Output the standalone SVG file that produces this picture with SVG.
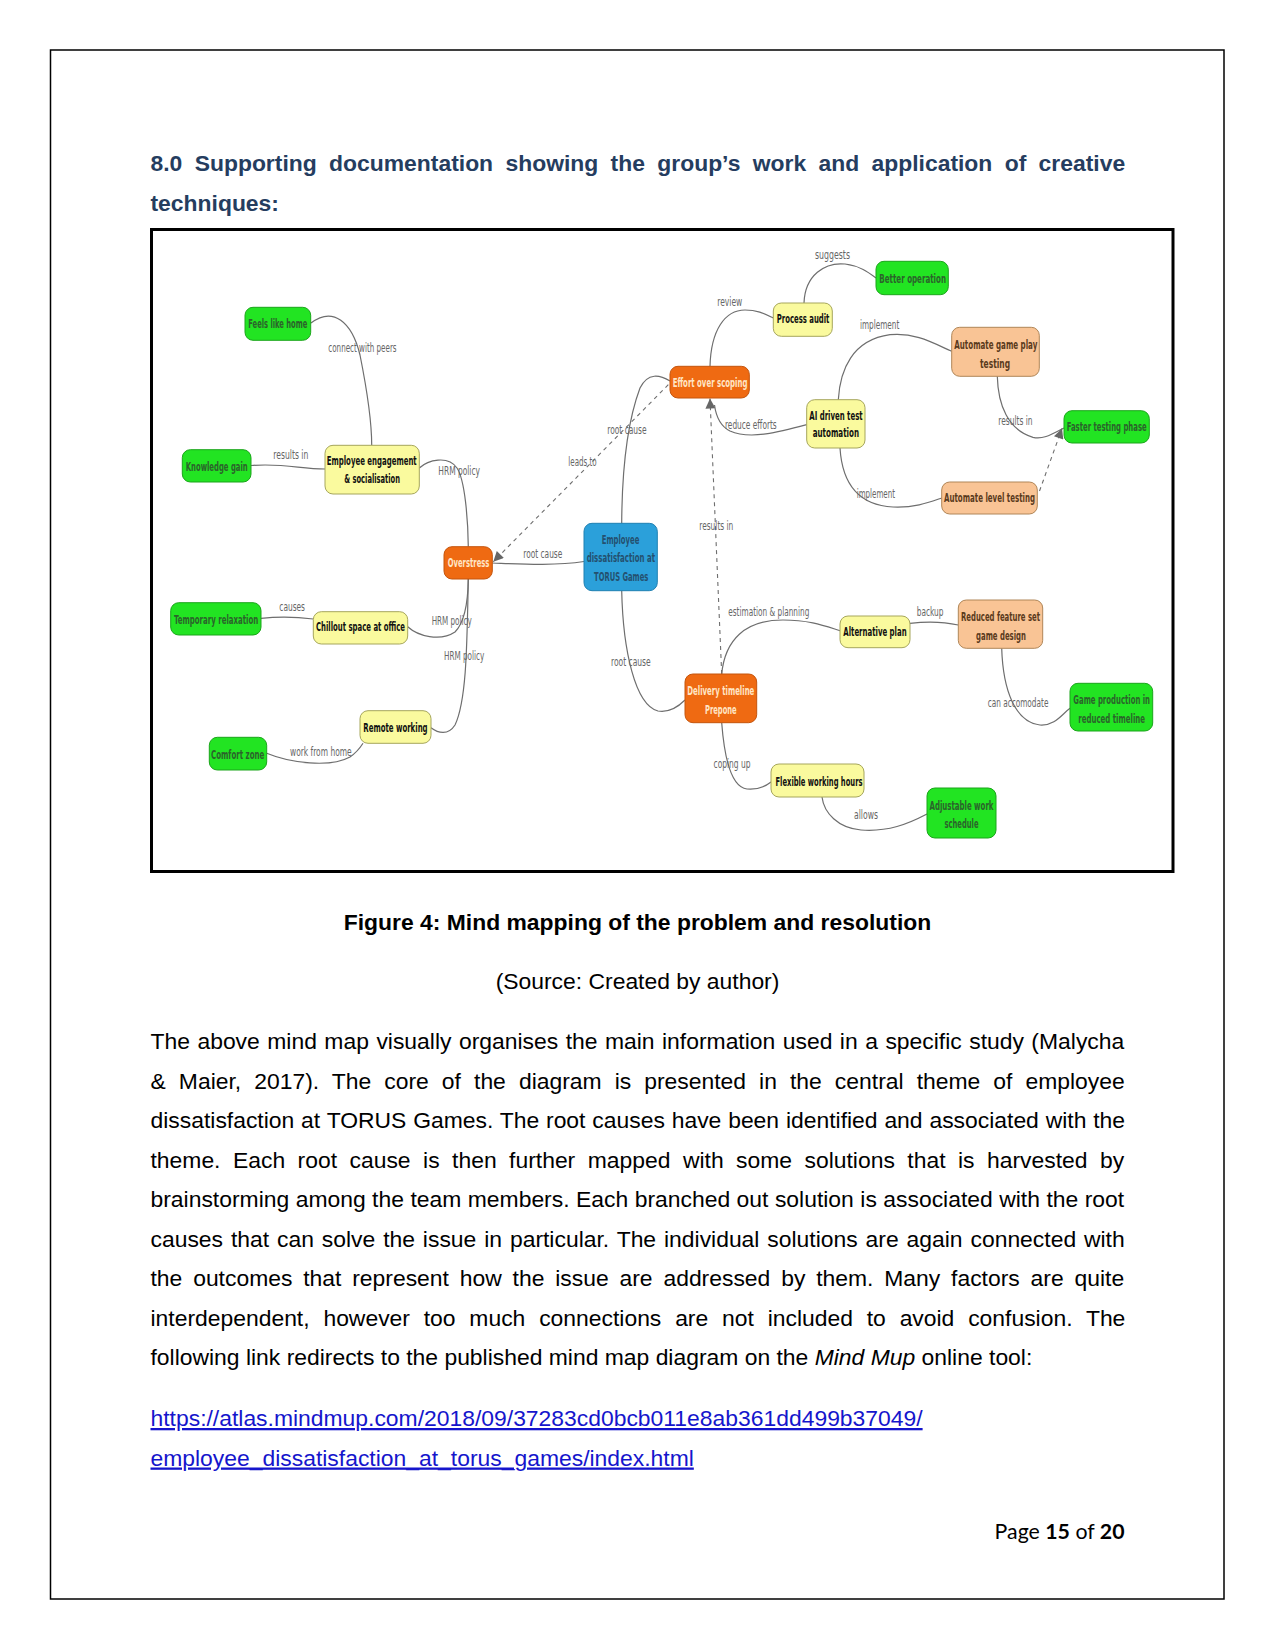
<svg xmlns="http://www.w3.org/2000/svg" width="1275" height="1651" viewBox="0 0 1275 1651">
<defs>
<style>
.page{font-family:"Liberation Sans",Arial,sans-serif;font-size:22.9px;fill:#000}
.lnk{font-family:"Liberation Sans",Arial,sans-serif;font-size:22.9px;fill:#1515cc}
.hd{font-family:"Liberation Sans",Arial,sans-serif;font-size:22.9px;font-weight:bold;fill:#253d5f}
.n rect{stroke-width:1}
.nt{font-family:"DejaVu Sans Condensed","DejaVu Sans",sans-serif;font-size:13px;font-weight:bold}
.lb{font-family:"DejaVu Sans Condensed","DejaVu Sans",sans-serif;font-size:11.5px;fill:#666}
.g rect{fill:#22e422;stroke:#1aa51a}.g text{fill:#2b632b}
.y rect{fill:#fafa9e;stroke:#a6a65c}.y text{fill:#111}
.p rect{fill:#f9c495;stroke:#b08658}.p text{fill:#5a3a1c}
.o rect{fill:#ef6a12;stroke:#c4540c}.o text{fill:#ffe6c6}
.b rect{fill:#2ba0da;stroke:#1f80b2}.b text{fill:#24506f}
.c{fill:none;stroke:#6e6e6e;stroke-width:1.2}
.d{fill:none;stroke:#6e6e6e;stroke-width:1.1;stroke-dasharray:4 4}
</style>
<marker id="ah" viewBox="0 0 10 10" refX="10" refY="5" markerWidth="12" markerHeight="10" markerUnits="userSpaceOnUse" orient="auto">
<path d="M0,0 L10,5 L0,10 z" fill="#666"/>
</marker>
</defs>
<rect width="1275" height="1651" fill="#fff"/>
<rect x="50.5" y="50" width="1173.5" height="1549" fill="none" stroke="#000" stroke-width="1.5"/>

<g id="heading">
<text class="hd" x="150.5" y="171" word-spacing="5.98">8.0 Supporting documentation showing the group’s work and application of creative</text>
<text class="hd" x="150.5" y="210.5">techniques:</text>
</g>

<rect x="151.5" y="229.5" width="1021.5" height="642" fill="#fff" stroke="#000" stroke-width="3"/>

<g id="connectors">
<path class="c" d="M311,323 C333,306 352,322 360,355 C367,390 371.7,420 371.7,445"/>
<path class="c" d="M251,465.5 C285,463 300,469 325,469"/>
<path class="c" d="M419.3,468 C428,460 448,455 457,468 C465,480 468,520 468.3,546.7"/>
<path class="c" d="M804,303 C805,275 825,262 845,264 C860,266 868,272 876,278"/>
<path class="c" d="M710,366.3 C711,330 725,310 745,310 C758,310 765,314 773.3,318"/>
<path class="c" d="M621.7,523.3 C622,470 628,420 640,388 C648,372 660,375 670,381"/>
<path class="d" d="M668.3,384.7 L493.3,561.7" marker-end="url(#ah)"/>
<path class="d" d="M721.7,674 L710,398.5" marker-end="url(#ah)"/>
<path class="c" d="M806.7,424.7 C780,432 750,440 730,431 C720,426 716,416 714.5,405"/>
<path class="c" d="M838.3,399.7 C840,370 852,340 890,334.7 C915,332 935,344 951.7,351.3"/>
<path class="c" d="M997.3,376.3 C998,405 1008,430 1033,437.3 C1045,440 1055,432 1064,428"/>
<path class="d" d="M1039.5,491 L1062,428.5" marker-end="url(#ah)"/>
<path class="c" d="M840,448 C842,480 855,505 893,507 C915,508 930,502 941.7,498"/>
<path class="c" d="M584,561.5 C555,566 520,564 492.3,563"/>
<path class="c" d="M261,618.3 C283,616 298,617 313.3,619"/>
<path class="c" d="M407.7,626.7 C418,636 440,642 455,632 C465,622 468,600 468.3,579"/>
<path class="c" d="M468.3,579 C467,640 467,700 455,725 C448,736 438,733 431,727.7"/>
<path class="c" d="M266.7,753.3 C290,763 330,768 350,757 C356,753 360,748 363,743.3"/>
<path class="c" d="M621.7,590.7 C623,650 635,705 658,711 C670,713 680,705 685,700"/>
<path class="c" d="M721.7,674 C725,640 745,620 783,620 C810,620 825,626 840,630.7"/>
<path class="c" d="M910,623.3 C930,621 945,622 958.3,625"/>
<path class="c" d="M1001.7,648.3 C1003,690 1015,722 1040,725 C1055,726 1062,714 1070,708.3"/>
<path class="c" d="M721.7,722.7 C724,753 730,787 747,789 C759,790 766,786 771,782"/>
<path class="c" d="M822,797 C824,813 838,828 861,830 C888,832 908,824 927,814"/>
</g>

<g id="labels">
<text class="lb" x="328.3" y="352" textLength="68.3" lengthAdjust="spacingAndGlyphs">connect with peers</text>
<text class="lb" x="273.3" y="458.7" textLength="35" lengthAdjust="spacingAndGlyphs">results in</text>
<text class="lb" x="438.3" y="475.3" textLength="41.7" lengthAdjust="spacingAndGlyphs">HRM policy</text>
<text class="lb" x="815" y="258.7" textLength="35" lengthAdjust="spacingAndGlyphs">suggests</text>
<text class="lb" x="717.3" y="306" textLength="25" lengthAdjust="spacingAndGlyphs">review</text>
<text class="lb" x="607.3" y="433.7" textLength="39.3" lengthAdjust="spacingAndGlyphs">root cause</text>
<text class="lb" x="568.3" y="466.3" textLength="28.3" lengthAdjust="spacingAndGlyphs">leads to</text>
<text class="lb" x="725" y="428.7" textLength="51.7" lengthAdjust="spacingAndGlyphs">reduce efforts</text>
<text class="lb" x="860" y="328.7" textLength="39.3" lengthAdjust="spacingAndGlyphs">implement</text>
<text class="lb" x="998.3" y="424.7" textLength="34.3" lengthAdjust="spacingAndGlyphs">results in</text>
<text class="lb" x="856.7" y="498" textLength="38.3" lengthAdjust="spacingAndGlyphs">implement</text>
<text class="lb" x="523.3" y="558" textLength="39" lengthAdjust="spacingAndGlyphs">root cause</text>
<text class="lb" x="699.3" y="529.7" textLength="34" lengthAdjust="spacingAndGlyphs">results in</text>
<text class="lb" x="279.3" y="610.7" textLength="25.7" lengthAdjust="spacingAndGlyphs">causes</text>
<text class="lb" x="431.7" y="624.7" textLength="40" lengthAdjust="spacingAndGlyphs">HRM policy</text>
<text class="lb" x="444" y="660" textLength="40.3" lengthAdjust="spacingAndGlyphs">HRM policy</text>
<text class="lb" x="290" y="756.3" textLength="61.7" lengthAdjust="spacingAndGlyphs">work from home</text>
<text class="lb" x="728.3" y="615.7" textLength="81" lengthAdjust="spacingAndGlyphs">estimation &amp; planning</text>
<text class="lb" x="611" y="665.7" textLength="39.7" lengthAdjust="spacingAndGlyphs">root cause</text>
<text class="lb" x="916.7" y="615.7" textLength="26.7" lengthAdjust="spacingAndGlyphs">backup</text>
<text class="lb" x="987.7" y="707.3" textLength="60.7" lengthAdjust="spacingAndGlyphs">can accomodate</text>
<text class="lb" x="713.5" y="768" textLength="37" lengthAdjust="spacingAndGlyphs">coping up</text>
<text class="lb" x="854" y="819" textLength="24" lengthAdjust="spacingAndGlyphs">allows</text>
</g>

<g id="n-feels" class="n g"><rect x="245" y="307.3" width="65.7" height="33" rx="8"/><text class="nt" x="248.3" y="327.5" textLength="59" lengthAdjust="spacingAndGlyphs">Feels like home</text></g>
<g id="n-knowledge" class="n g"><rect x="182.3" y="449.7" width="68.7" height="32.3" rx="8"/><text class="nt" x="185.7" y="470.8" textLength="62" lengthAdjust="spacingAndGlyphs">Knowledge gain</text></g>
<g id="n-engagement" class="n y"><rect x="325" y="445.3" width="94.3" height="48.7" rx="8"/><text class="nt" x="326.7" y="464.8" textLength="90" lengthAdjust="spacingAndGlyphs">Employee engagement</text><text class="nt" x="344.3" y="483.2" textLength="55.7" lengthAdjust="spacingAndGlyphs">&amp; socialisation</text></g>
<g id="n-process" class="n y"><rect x="773.3" y="303" width="59" height="33.3" rx="8"/><text class="nt" x="776.7" y="323.2" textLength="52.7" lengthAdjust="spacingAndGlyphs">Process audit</text></g>
<g id="n-better" class="n g"><rect x="876" y="261.3" width="72.3" height="33.4" rx="8"/><text class="nt" x="879.3" y="282.5" textLength="66.7" lengthAdjust="spacingAndGlyphs">Better operation</text></g>
<g id="n-effort" class="n o"><rect x="670" y="366.3" width="79.3" height="31.7" rx="8"/><text class="nt" x="672.7" y="386.5" textLength="74.7" lengthAdjust="spacingAndGlyphs">Effort over scoping</text></g>
<g id="n-ai" class="n y"><rect x="806.7" y="399.7" width="58.3" height="48.3" rx="8"/><text class="nt" x="809.3" y="419.8" textLength="53.3" lengthAdjust="spacingAndGlyphs">AI driven test</text><text class="nt" x="812.7" y="436.5" textLength="46.3" lengthAdjust="spacingAndGlyphs">automation</text></g>
<g id="n-gameplay" class="n p"><rect x="951.7" y="327.3" width="87.6" height="49" rx="8"/><text class="nt" x="954.3" y="349.2" textLength="83" lengthAdjust="spacingAndGlyphs">Automate game play</text><text class="nt" x="980" y="367.5" textLength="30" lengthAdjust="spacingAndGlyphs">testing</text></g>
<g id="n-faster" class="n g"><rect x="1064" y="410.7" width="85.3" height="32.3" rx="8"/><text class="nt" x="1066.7" y="431.2" textLength="80" lengthAdjust="spacingAndGlyphs">Faster testing phase</text></g>
<g id="n-level" class="n p"><rect x="941.7" y="482" width="95.6" height="32" rx="8"/><text class="nt" x="944" y="501.8" textLength="91" lengthAdjust="spacingAndGlyphs">Automate level testing</text></g>
<g id="n-overstress" class="n o"><rect x="444" y="546.7" width="48.3" height="32.3" rx="8"/><text class="nt" x="447.7" y="566.8" textLength="41.7" lengthAdjust="spacingAndGlyphs">Overstress</text></g>
<g id="n-center" class="n b"><rect x="584" y="523.3" width="73.3" height="67.4" rx="8"/><text class="nt" x="601.7" y="543.8" textLength="37.7" lengthAdjust="spacingAndGlyphs">Employee</text><text class="nt" x="586.7" y="562.2" textLength="68.3" lengthAdjust="spacingAndGlyphs">dissatisfaction at</text><text class="nt" x="594" y="580.5" textLength="54.3" lengthAdjust="spacingAndGlyphs">TORUS Games</text></g>
<g id="n-temp" class="n g"><rect x="170.7" y="602.7" width="90.3" height="32.3" rx="8"/><text class="nt" x="174" y="623.5" textLength="84.3" lengthAdjust="spacingAndGlyphs">Temporary relaxation</text></g>
<g id="n-chillout" class="n y"><rect x="313.3" y="611.7" width="94.4" height="32.3" rx="8"/><text class="nt" x="316" y="631.2" textLength="89" lengthAdjust="spacingAndGlyphs">Chillout space at office</text></g>
<g id="n-remote" class="n y"><rect x="360" y="710.7" width="71" height="32.6" rx="8"/><text class="nt" x="363.3" y="731.8" textLength="64.3" lengthAdjust="spacingAndGlyphs">Remote working</text></g>
<g id="n-comfort" class="n g"><rect x="209.3" y="737.3" width="57.4" height="32.7" rx="8"/><text class="nt" x="211" y="758.5" textLength="53.3" lengthAdjust="spacingAndGlyphs">Comfort zone</text></g>
<g id="n-delivery" class="n o"><rect x="685" y="674" width="71.7" height="48.7" rx="8"/><text class="nt" x="687.3" y="695.2" textLength="67" lengthAdjust="spacingAndGlyphs">Delivery timeline</text><text class="nt" x="705" y="713.5" textLength="31.7" lengthAdjust="spacingAndGlyphs">Prepone</text></g>
<g id="n-altplan" class="n y"><rect x="840" y="616" width="70" height="31.7" rx="8"/><text class="nt" x="843.3" y="636.2" textLength="63.3" lengthAdjust="spacingAndGlyphs">Alternative plan</text></g>
<g id="n-reduced" class="n p"><rect x="958.3" y="600" width="84.4" height="48.3" rx="8"/><text class="nt" x="961" y="621.2" textLength="79" lengthAdjust="spacingAndGlyphs">Reduced feature set</text><text class="nt" x="976" y="639.5" textLength="50" lengthAdjust="spacingAndGlyphs">game design</text></g>
<g id="n-gameprod" class="n g"><rect x="1070" y="683.3" width="82.7" height="47.7" rx="8"/><text class="nt" x="1073.3" y="703.8" textLength="76.7" lengthAdjust="spacingAndGlyphs">Game production in</text><text class="nt" x="1078.3" y="722.8" textLength="66.7" lengthAdjust="spacingAndGlyphs">reduced timeline</text></g>
<g id="n-flexible" class="n y"><rect x="771" y="764" width="93" height="33" rx="8"/><text class="nt" x="775.5" y="785.5" textLength="87" lengthAdjust="spacingAndGlyphs">Flexible working hours</text></g>
<g id="n-adjustable" class="n g"><rect x="927" y="788" width="69" height="50" rx="8"/><text class="nt" x="929.5" y="809.5" textLength="64" lengthAdjust="spacingAndGlyphs">Adjustable work</text><text class="nt" x="944.5" y="827.5" textLength="34" lengthAdjust="spacingAndGlyphs">schedule</text></g>

<g id="caption">
<text class="page" x="637.5" y="929.6" text-anchor="middle" font-weight="bold">Figure 4: Mind mapping of the problem and resolution</text>
<text class="page" x="637.5" y="988.5" text-anchor="middle">(Source: Created by author)</text>
</g>

<g id="body">
<text class="page" x="150.5" y="1049" word-spacing="1.12">The above mind map visually organises the main information used in a specific study (Malycha</text>
<text class="page" x="150.5" y="1088.5" word-spacing="6.7">&amp; Maier, 2017). The core of the diagram is presented in the central theme of employee</text>
<text class="page" x="150.5" y="1128" word-spacing="0.48">dissatisfaction at TORUS Games. The root causes have been identified and associated with the</text>
<text class="page" x="150.5" y="1167.5" word-spacing="6.11">theme. Each root cause is then further mapped with some solutions that is harvested by</text>
<text class="page" x="150.5" y="1207" word-spacing="0.12">brainstorming among the team members. Each branched out solution is associated with the root</text>
<text class="page" x="150.5" y="1246.5" word-spacing="1.54">causes that can solve the issue in particular. The individual solutions are again connected with</text>
<text class="page" x="150.5" y="1286" word-spacing="4.47">the outcomes that represent how the issue are addressed by them. Many factors are quite</text>
<text class="page" x="150.5" y="1325.5" word-spacing="7.45">interdependent, however too much connections are not included to avoid confusion. The</text>
<text class="page" x="150.5" y="1365">following link redirects to the published mind map diagram on the <tspan font-style="italic">Mind Mup</tspan> online tool:</text>
<text class="lnk" x="150.5" y="1426" text-decoration="underline">https://atlas.mindmup.com/2018/09/37283cd0bcb011e8ab361dd499b37049/</text>
<text class="lnk" x="150.5" y="1465.5" text-decoration="underline">employee_dissatisfaction_at_torus_games/index.html</text>
</g>

<text x="1124.5" y="1539" text-anchor="end" font-family="Lato,'Open Sans',sans-serif" font-size="21.3px" fill="#000">Page <tspan font-weight="bold">15</tspan> of <tspan font-weight="bold">20</tspan></text>
</svg>
